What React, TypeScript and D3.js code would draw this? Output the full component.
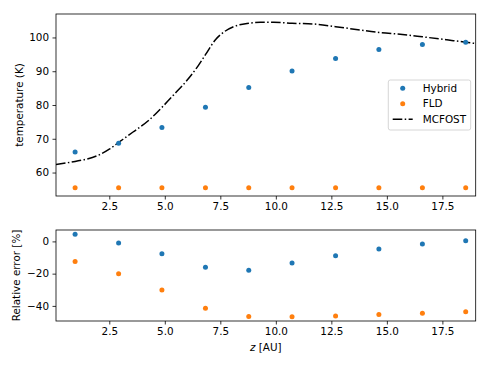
import React, { useRef, useEffect } from 'react';
import * as d3 from 'd3';

// cell centres along z [AU]
const zCells = [0.96, 2.92, 4.87, 6.83, 8.78, 10.73, 12.69, 14.64, 16.6, 18.55];
const hybridT = [66.1, 68.7, 73.3, 79.3, 85.2, 90.1, 93.8, 96.4, 97.9, 98.6];
const fldT = [55.5, 55.5, 55.5, 55.5, 55.5, 55.5, 55.5, 55.5, 55.5, 55.5];
const hybridErr = [4.5, -1.0, -7.6, -16.1, -17.9, -13.4, -8.9, -4.7, -1.6, 0.4];
const fldErr = [-12.4, -20.0, -30.1, -41.5, -46.6, -46.8, -46.2, -45.4, -44.6, -43.7];

// MCFOST reference profile
const mcZ = [0.1, 0.96, 1.5, 2.07, 2.5, 2.92, 3.57, 4.3, 4.87, 5.4, 6.0, 6.5, 6.83, 7.3, 7.7, 8.1, 8.78, 9.3, 9.9, 10.73, 11.7, 12.69, 13.7, 14.64, 15.7, 16.6, 17.7, 18.55, 19.0];
const mcT = [62.4, 63.3, 64.0, 65.3, 66.9, 68.9, 72.0, 75.6, 79.3, 83.0, 87.3, 91.6, 94.9, 99.5, 101.8, 103.2, 104.2, 104.5, 104.5, 104.2, 104.0, 103.2, 102.3, 101.5, 100.9, 100.2, 99.3, 98.6, 98.2];

const xTicks = [2.5, 5.0, 7.5, 10.0, 12.5, 15.0, 17.5];
const tTicks = [60, 70, 80, 90, 100];
const errTicks = [-40, -20, 0];

const W = 490;
const H = 368;
const BLUE = '#1f77b4';
const ORANGE = '#ff7f0e';
const FONT = 'DejaVu Sans, sans-serif';

const pad = (ext: number[]) => {
  const r = ext[1] - ext[0];
  return [ext[0] - 0.05 * r, ext[1] + 0.05 * r];
};

export default function App() {
  const ref = useRef<SVGSVGElement>(null);

  useEffect(() => {
    const svg = d3.select(ref.current);
    svg.selectAll('*').remove();

    const left = 56, right = 475.7;
    const top1 = 14, bot1 = 196;
    const top2 = 230, bot2 = 321;

    const x = d3.scaleLinear()
      .domain(d3.extent(mcZ) as number[])
      .range([left, right]);

    const yT = d3.scaleLinear()
      .domain(pad(d3.extent([...mcT, ...hybridT, ...fldT]) as number[]))
      .range([bot1, top1]);

    const yE = d3.scaleLinear()
      .domain(pad(d3.extent([...hybridErr, ...fldErr]) as number[]))
      .range([bot2, top2]);

    const styleAxis = (g: any) => {
      g.select('.domain').remove();
      g.selectAll('line').attr('stroke', '#000').attr('stroke-width', 0.8);
      g.selectAll('text').attr('font-family', FONT).attr('font-size', 10.4).attr('fill', '#000');
    };

    // ----- top panel -----
    const clip1 = svg.append('clipPath').attr('id', 'clip1');
    clip1.append('rect').attr('x', left).attr('y', top1).attr('width', right - left).attr('height', bot1 - top1);

    svg.append('path')
      .datum(mcZ.map((z, i) => [z, mcT[i]]))
      .attr('clip-path', 'url(#clip1)')
      .attr('fill', 'none')
      .attr('stroke', '#000')
      .attr('stroke-width', 1.5)
      .attr('stroke-dasharray', '9.6 2.4 1.5 2.4')
      .attr('d', d3.line<number[]>().curve(d3.curveMonotoneX).x(d => x(d[0])).y(d => yT(d[1])));

    svg.append('g').selectAll('circle').data(zCells).join('circle')
      .attr('cx', d => x(d)).attr('cy', (d, i) => yT(hybridT[i])).attr('r', 2.5).attr('fill', BLUE);
    svg.append('g').selectAll('circle').data(zCells).join('circle')
      .attr('cx', d => x(d)).attr('cy', (d, i) => yT(fldT[i])).attr('r', 2.5).attr('fill', ORANGE);

    svg.append('g').attr('transform', `translate(0,${bot1})`)
      .call(d3.axisBottom(x).tickValues(xTicks).tickFormat(d3.format('.1f')).tickSize(3.5).tickPadding(3.5))
      .call(styleAxis);
    svg.append('g').attr('transform', `translate(${left},0)`)
      .call(d3.axisLeft(yT).tickValues(tTicks).tickFormat(d3.format('d')).tickSize(3.5).tickPadding(3.5))
      .call(styleAxis);

    svg.append('rect')
      .attr('x', left).attr('y', top1).attr('width', right - left).attr('height', bot1 - top1)
      .attr('fill', 'none').attr('stroke', '#000').attr('stroke-width', 0.8);

    svg.append('text')
      .attr('transform', `translate(19,${(top1 + bot1) / 2}) rotate(-90)`)
      .attr('text-anchor', 'middle').attr('dy', '0.35em')
      .attr('font-family', FONT).attr('font-size', 10.4)
      .text('temperature (K)');

    // legend
    const lg = svg.append('g').attr('transform', 'translate(388.3,80)');
    lg.append('rect').attr('width', 82.4).attr('height', 50).attr('rx', 2)
      .attr('fill', '#fff').attr('fill-opacity', 0.8).attr('stroke', '#ccc').attr('stroke-width', 0.8);
    const items = [
      { label: 'Hybrid', color: BLUE, kind: 'dot' },
      { label: 'FLD', color: ORANGE, kind: 'dot' },
      { label: 'MCFOST', color: '#000', kind: 'line' }
    ];
    items.forEach((it, i) => {
      const cy = 8.3 + i * 15.5;
      if (it.kind === 'dot') {
        lg.append('circle').attr('cx', 14.4).attr('cy', cy).attr('r', 2.5).attr('fill', it.color);
      } else {
        lg.append('line').attr('x1', 4.4).attr('x2', 24.4).attr('y1', cy).attr('y2', cy)
          .attr('stroke', it.color).attr('stroke-width', 1.5).attr('stroke-dasharray', '9.6 2.4 1.5 2.4');
      }
      lg.append('text').attr('x', 34.4).attr('y', cy).attr('dy', '0.35em')
        .attr('font-family', FONT).attr('font-size', 10.4).text(it.label);
    });

    // ----- bottom panel -----
    svg.append('g').selectAll('circle').data(zCells).join('circle')
      .attr('cx', d => x(d)).attr('cy', (d, i) => yE(hybridErr[i])).attr('r', 2.5).attr('fill', BLUE);
    svg.append('g').selectAll('circle').data(zCells).join('circle')
      .attr('cx', d => x(d)).attr('cy', (d, i) => yE(fldErr[i])).attr('r', 2.5).attr('fill', ORANGE);

    svg.append('g').attr('transform', `translate(0,${bot2})`)
      .call(d3.axisBottom(x).tickValues(xTicks).tickFormat(d3.format('.1f')).tickSize(3.5).tickPadding(3.5))
      .call(styleAxis);
    svg.append('g').attr('transform', `translate(${left},0)`)
      .call(d3.axisLeft(yE).tickValues(errTicks).tickFormat(d3.format('d')).tickSize(3.5).tickPadding(3.5))
      .call(styleAxis);

    svg.append('rect')
      .attr('x', left).attr('y', top2).attr('width', right - left).attr('height', bot2 - top2)
      .attr('fill', 'none').attr('stroke', '#000').attr('stroke-width', 0.8);

    svg.append('text')
      .attr('transform', `translate(16.7,${(top2 + bot2) / 2}) rotate(-90)`)
      .attr('text-anchor', 'middle').attr('dy', '0.35em')
      .attr('font-family', FONT).attr('font-size', 10.4)
      .text('Relative error [%]');

    const xl = svg.append('text')
      .attr('x', (left + right) / 2).attr('y', 347).attr('dy', '0.35em')
      .attr('text-anchor', 'middle')
      .attr('font-family', FONT).attr('font-size', 10.4);
    xl.append('tspan').attr('font-style', 'italic').text('z');
    xl.append('tspan').text(' [AU]');
  }, []);

  return (
    <svg ref={ref} width={W} height={H}
      style={{ position: 'absolute', left: 0, top: 0, background: '#fff' }} />
  );
}
